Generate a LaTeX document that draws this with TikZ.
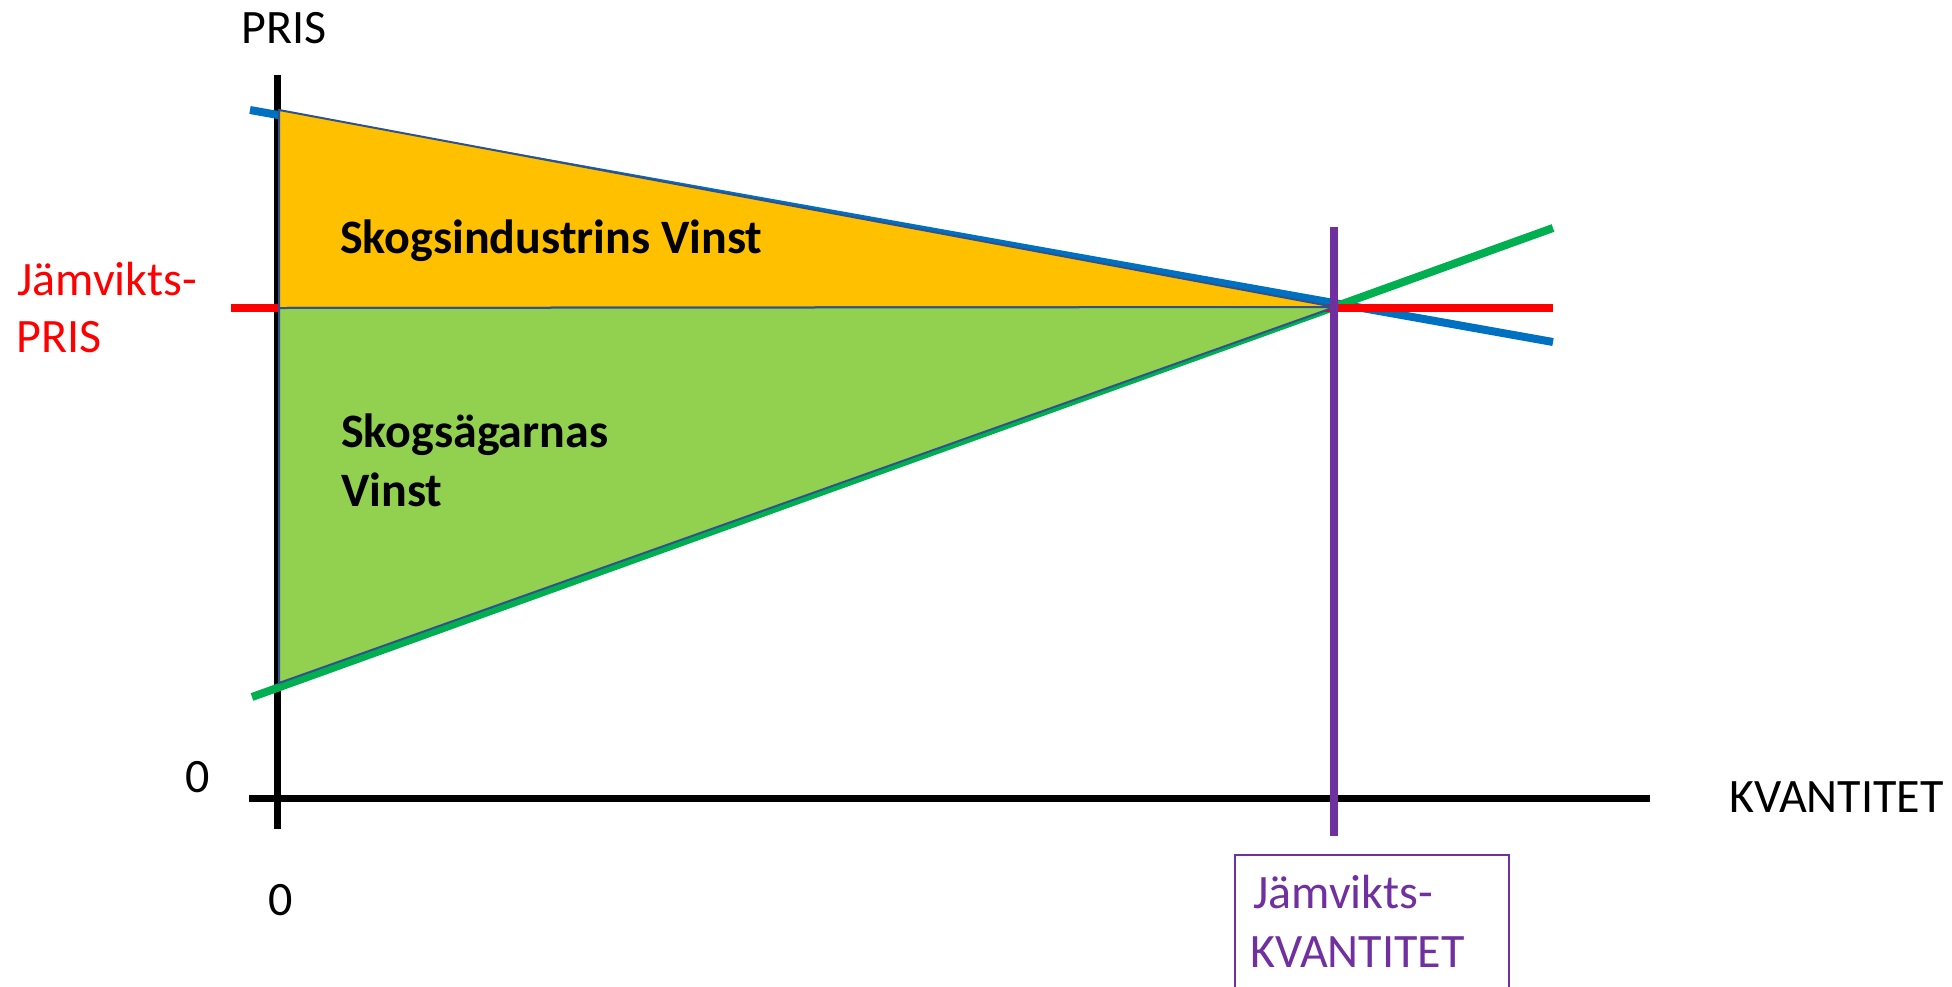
\documentclass[tikz,border=0pt]{standalone}
\usepackage{fontspec}
\setmainfont{Carlito}
\usepackage{tikz}
\definecolor{demand}{HTML}{0070C0}
\definecolor{supply}{HTML}{00B050}
\definecolor{eqprice}{HTML}{FF0000}
\definecolor{eqqty}{HTML}{7030A0}
\definecolor{gainind}{HTML}{FFC000}
\definecolor{gainown}{HTML}{92D050}
\definecolor{edge}{HTML}{2F528F}
\tikzset{
  every picture/.style={line cap=butt, line join=miter},
  axis/.style={line width=7pt, black},
  curve/.style={line width=8pt},
  surplus/.style={draw=edge, line width=2pt},
  lbl/.style={inner sep=0pt, anchor=base west, font=\fontsize{48}{58}\selectfont},
  boldlbl/.style={lbl, font=\fontsize{48}{58}\selectfont\bfseries},
}
\begin{document}
\begin{tikzpicture}[x=1pt,y=-1pt]
\useasboundingbox (0,0) rectangle (1952,986);
\clip (0,0) rectangle (1952,986);
% axes
\coordinate (ytop) at (277,75);
\coordinate (ybot) at (277,829);
\coordinate (xleft) at (249,798);
\coordinate (xright) at (1650,798);
\draw[axis] (ytop) -- (ybot)
(xleft) -- (xright);
% demand, supply, price
\coordinate (d1) at (250,110);
\coordinate (d2) at (1553,342);
\coordinate (s1) at (252,697);
\coordinate (s2) at (1553,228);
\coordinate (p1) at (231,308);
\coordinate (p2) at (1553,308);
\draw[curve,demand] (d1) -- (d2);
\draw[curve,supply] (s1) -- (s2);
\draw[curve,eqprice] (p1) -- (p2);
% surplus areas
\coordinate (eq) at (1335,307);
\coordinate (top) at (279,110);
\coordinate (mid) at (279,308);
\coordinate (low) at (279,683);
\filldraw[surplus,fill=gainind] (top) -- (mid) -- (eq) -- cycle;
\filldraw[surplus,fill=gainown] (mid) -- (low) -- (eq) -- cycle;
% equilibrium quantity
\coordinate (q1) at (1334,227);
\coordinate (q2) at (1334,836);
\draw[curve,eqqty,line width=7.5pt] (q1) -- (q2);
\coordinate (boxa) at (1235,855);
\coordinate (boxb) at (1509,1010);
\draw[eqqty,line width=1.5pt] (boxa) rectangle (boxb);
% labels
\node[lbl] (pris) at (241,43) {PRIS};
\node[lbl,eqprice] (jp1) at (17,295) {Jämvikts-};
\node[lbl,eqprice] (jp2) at (16,352) {PRIS};
\node[boldlbl] (ind) at (340,253) {Skogsindustrins Vinst};
\node[boldlbl] (own1) at (341,447) {Skogsägarnas};
\node[boldlbl] (own2) at (341,506) {Vinst};
\node[lbl] (zy) at (185,792) {0};
\node[lbl] (zx) at (268,915) {0};
\node[lbl] (kvant) at (1729,812) {KVANTITET};
\node[lbl,eqqty] (jq1) at (1253,908) {Jämvikts-};
\node[lbl,eqqty] (jq2) at (1250,967) {KVANTITET};
\end{tikzpicture}
\end{document}
